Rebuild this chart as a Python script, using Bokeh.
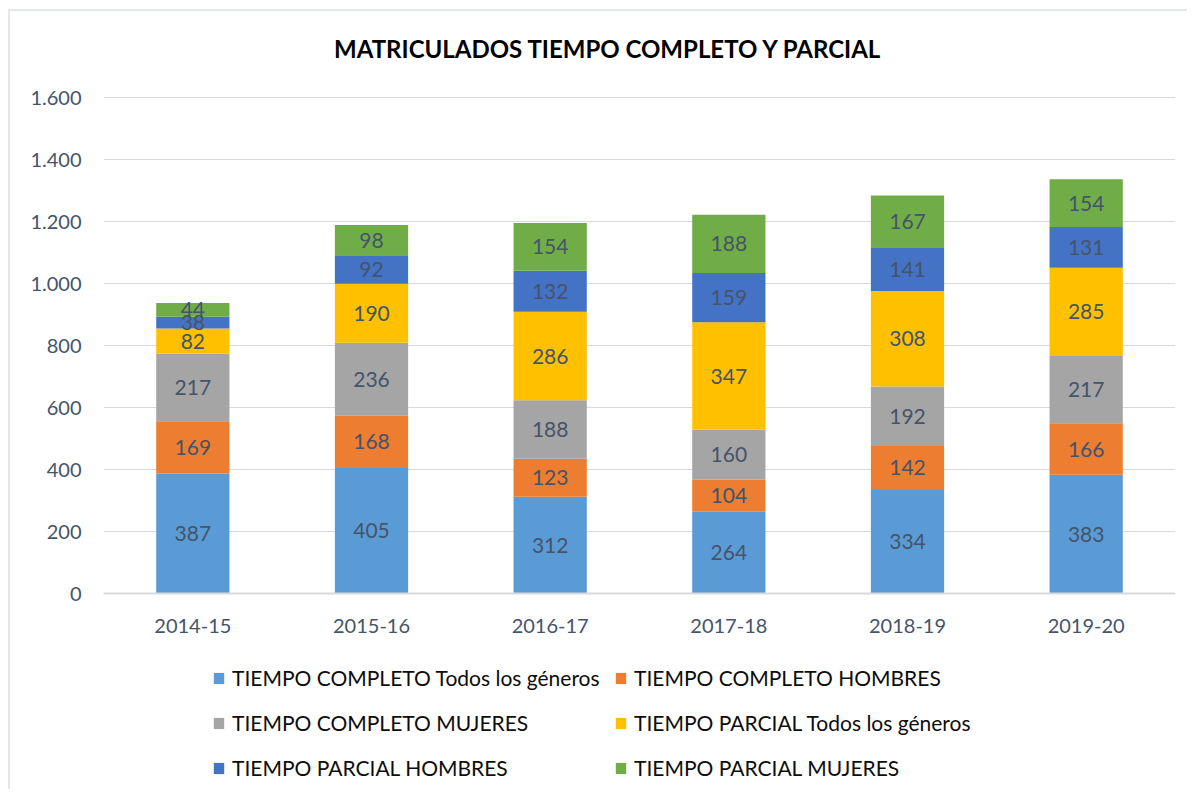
from bokeh.plotting import figure
from bokeh.models import ColumnDataSource, Range1d, Legend, LegendItem, CustomJSTickFormatter, Label, Span
from bokeh.core.properties import value
from bokeh.embed import file_html
from bokeh.resources import INLINE

years = ["2014-15", "2015-16", "2016-17", "2017-18", "2018-19", "2019-20"]
tc_todos = [387, 405, 312, 264, 334, 383]
tc_hombres = [169, 168, 123, 104, 142, 166]
tc_mujeres = [217, 236, 188, 160, 192, 217]
tp_todos = [82, 190, 286, 347, 308, 285]
tp_hombres = [38, 92, 132, 159, 141, 131]
tp_mujeres = [44, 98, 154, 188, 167, 154]

series_names = [
    "TIEMPO COMPLETO Todos los géneros",
    "TIEMPO COMPLETO HOMBRES",
    "TIEMPO COMPLETO MUJERES",
    "TIEMPO PARCIAL Todos los géneros",
    "TIEMPO PARCIAL HOMBRES",
    "TIEMPO PARCIAL MUJERES",
]
title_text = "MATRICULADOS TIEMPO COMPLETO Y PARCIAL"
y_ticks = [0, 200, 400, 600, 800, 1000, 1200, 1400, 1600]
y_max = 1600

series = [tc_todos, tc_hombres, tc_mujeres, tp_todos, tp_hombres, tp_mujeres]
colors = ["#5B9BD5", "#ED7D31", "#A5A5A5", "#FFC000", "#4472C4", "#70AD47"]
keys = ["s0", "s1", "s2", "s3", "s4", "s5"]

FONT = "Lato"
TXT = "#44546A"

# layout (pixels)
PLOT_H = 496          # height of the value area (0..1600)
BELOW_H = 192         # room under the value area for category labels and legend
ABOVE_H = 77          # room above the value area for the title
px_per_unit = PLOT_H / y_max
y_start = -BELOW_H / px_per_unit
y_end = y_max + ABOVE_H / px_per_unit

data = {"years": years}
for k, s in zip(keys, series):
    data[k] = s
source = ColumnDataSource(data)

p = figure(
    x_range=years, y_range=Range1d(y_start, y_end),
    frame_width=1072, frame_height=PLOT_H + BELOW_H + ABOVE_H,
    output_backend="svg", toolbar_location=None,
    min_border_left=93, min_border_right=12, min_border_top=9, min_border_bottom=4,
)
p.styles = {"margin-left": "8px", "margin-top": "9px",
            "border-left": "2px solid #E3E7EC", "border-top": "2px solid #E3E7EC"}

renderers = p.vbar_stack(keys, x="years", width=0.41, color=colors, source=source,
                         line_color=None)

# data labels at segment midpoints
lx, ly, lt = [], [], []
for i, y in enumerate(years):
    cum = 0
    for s in series:
        v = s[i]
        lx.append(y)
        ly.append(cum + v / 2)
        lt.append(str(v))
        cum += v
p.text(x=lx, y=ly, text=lt, text_align="center", text_baseline="middle",
       text_font=value(FONT), text_font_size="21px", text_color=TXT)

# category labels under the baseline
p.text(x=years, y=[-32 / px_per_unit] * len(years), text=years, text_align="center",
       text_baseline="middle", text_font=value(FONT), text_font_size="20px", text_color=TXT)

# title
p.add_layout(Label(x=505, y=BELOW_H + PLOT_H + ABOVE_H - 28, x_units="screen", y_units="screen",
                   text=title_text, text_align="center", text_baseline="middle",
                   text_font=FONT, text_font_size="24px", text_font_style="bold",
                   text_color="#000000"))

p.xaxis.visible = False
p.xgrid.grid_line_color = None
p.ygrid.grid_line_color = "#D9D9D9"
p.ygrid.grid_line_width = 1
p.yaxis.ticker = y_ticks
p.yaxis.formatter = CustomJSTickFormatter(code="""
    if (tick >= 1000) { return Math.floor(tick/1000) + '.' + String(tick % 1000).padStart(3, '0'); }
    return String(tick);
""")
p.yaxis.axis_line_color = None
p.yaxis.major_tick_line_color = None
p.yaxis.minor_tick_line_color = None
p.yaxis.major_label_standoff = 16
p.yaxis.major_label_text_font = FONT
p.yaxis.major_label_text_font_size = "20px"
p.yaxis.major_label_text_color = TXT
p.outline_line_color = None

p.add_layout(Span(location=0, dimension="width", line_color="#D9D9D9", line_width=2))

common = dict(label_text_font=FONT, label_text_font_size="21px", label_text_color="#0D0D0D",
              glyph_width=13, glyph_height=14, label_height=31, label_standoff=7, spacing=14,
              border_line_color=None, background_fill_alpha=0, padding=0, margin=0,
              orientation="vertical")
left_items = [LegendItem(label=series_names[i], renderers=[renderers[i]]) for i in (0, 2, 4)]
right_items = [LegendItem(label=series_names[i], renderers=[renderers[i]]) for i in (1, 3, 5)]
p.add_layout(Legend(items=left_items, location=(109, 2), **common))
p.add_layout(Legend(items=right_items, location=(511, 2), **common))

open("out.html", "w").write(file_html(p, INLINE))
